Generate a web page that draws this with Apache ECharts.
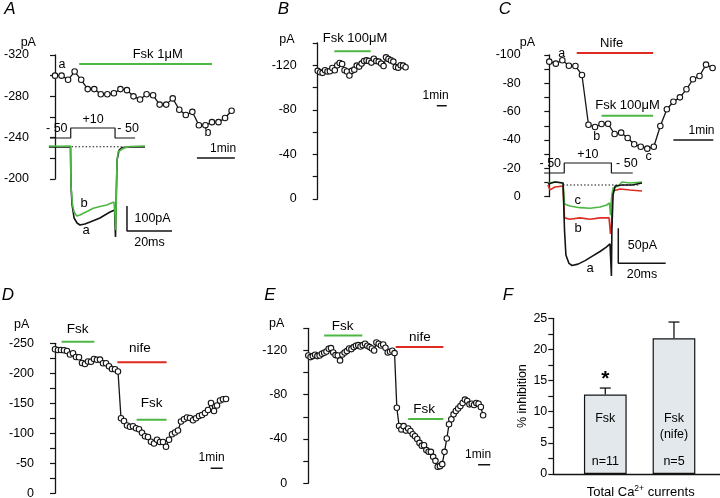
<!DOCTYPE html>
<html>
<head>
<meta charset="utf-8">
<script src="https://cdn.jsdelivr.net/npm/echarts@6/dist/echarts.min.js"></script>
<style>
html, body { margin: 0; padding: 0; background: #fff; }
#main { width: 720px; height: 498px; }
</style>
</head>
<body>
<div id="main"></div>
<script>
var FONT = '"Liberation Sans", Arial, sans-serif';
var INK = '#141414';
var TEXT = '#000';
var GREEN = '#4cb843';
var RED = '#df2a22';

// peak Ca2+ current (pA), one value per sweep
var aPeak = [-300, -300, -296, -304, -296, -287, -287, -282, -282, -283, -287, -286, -280, -277,
  -282, -281, -272, -272, -278, -267, -262, -265, -252, -252, -255, -255, -259, -266];
var bPeak = [-115, -113.8, -113.2, -115.6, -114.4, -114.7, -117.6, -115.6, -120, -122.1, -121.2,
  -115.6, -114.4, -110.8, -115, -116.1, -119.7, -118.8, -121.5, -123.9, -124.4, -123.9, -122.4,
  -125.9, -123.9, -123.3, -121.5, -119.4, -127.1, -125.6, -124.4, -123.3, -118.5, -117.9, -120,
  -119.7, -118.2];
var cPeak = [-95.3, -93.9, -96.3, -92.4, -92.2, -85.9, -50.8, -49.2, -51.3, -51.5, -44.2, -45.2,
  -41.4, -37, -35.3, -33.9, -35.3, -49.9, -61.7, -67, -70.1, -75.8, -82.9, -85.2, -93.2, -90.8];
var dPeak = [-240, -238.8, -238.8, -238.3, -237.2, -231.3, -233.3, -227.2, -226.7, -217.2, -215.5,
  -219.7, -219.2, -223.8, -222.5, -222.8, -216.8, -216.7, -211.7, -207.2, -206.8, -203, -125.2,
  -120.5, -113, -110.8, -111.7, -108.5, -106.7, -100.8, -95.2, -93.8, -86, -83, -89.3, -85.5,
  -85.5, -77.7, -89.2, -98.5, -101.3, -104.7, -119.7, -123.5, -126.3, -125.5, -121.7, -125,
  -128.8, -130.5, -133.8, -138.8, -150.5, -137.2, -146.3, -154.7, -156.7, -157.2];
var ePeak = [-115.5, -114, -114.9, -116.1, -114.9, -115.5, -117, -117.9, -119.1, -121.5, -122.1,
  -118.2, -115.8, -115.5, -111, -116.4, -118.2, -119.4, -121.8, -121.2, -123, -124.2, -124.8,
  -123.6, -124.8, -126, -124.2, -123, -121.8, -120, -127.2, -126, -124.5, -125.4, -122.4, -118.2,
  -118.8, -119.7, -117.6, -68.2, -51.8, -48.7, -51.6, -47.6, -49.5, -47.2, -44.3, -42.5, -40,
  -36.5, -34, -34.4, -30, -28.5, -28.4, -23.9, -20.3, -15, -15.5, -17.3, -28.4, -40.4, -53.3,
  -57.8, -62.3, -65.3, -67.5, -69.8, -72.5, -75.6, -74.3, -71.3, -71.9, -70.7, -72.5, -71.9,
  -68.9, -61.4];

// current traces [ms, pA]
var aTraceA = [[0.4, -1], [5, 0], [10, -1], [10.2, -153], [10.7, -233], [11.6, -285], [12.9, -305],
  [14.2, -313], [16.4, -309], [18.7, -301], [20.9, -293], [23.1, -285], [25.3, -273], [27.6, -261],
  [29.6, -253], [29.8, -313], [30, -361], [30.4, -173], [30.7, -53], [31.6, -13], [32.9, -3],
  [36.4, -1], [43.1, -1]];
var aTraceB = [[0.4, 3], [5, 2], [10, 3], [10.2, -153], [10.6, -157], [10.9, -233], [11.6, -261],
  [12.8, -277], [14.2, -273], [15.7, -266], [17.8, -257], [20.1, -246], [23.1, -239], [26.1, -233],
  [29.3, -221], [29.8, -273], [30.1, -333], [30.4, -173], [30.7, -53], [31.2, -20], [33.5, -6],
  [36.4, 1], [43.1, 3]];
var cTraceA = [[3.5, 1.4], [6.5, 4.3], [9.9, 2.9], [10.5, -64], [11.1, -100], [12.4, -112],
  [13.7, -115], [16.2, -113], [19.2, -108], [22.1, -102], [25.5, -95], [28, -89], [29.7, -84],
  [30.1, -114], [30.3, -130], [30.5, -64], [31, -14], [31.9, -1.4], [34.8, 0], [39, 0], [43.2, 2.9]];
var cTraceB = [[3.5, 0], [4.4, -7], [6.5, -2.9], [9.9, -1.4], [10.5, -47], [12.8, -49], [17, -47],
  [21.3, -49], [25.5, -47], [29.3, -47], [29.9, -70], [30.3, -59], [30.8, -8.6], [34, -5.7],
  [38.1, -7.1], [43.2, -8.6]];
var cTraceC = [[3.5, 2.9], [6.9, 4.3], [9.9, 2.9], [10.5, -27], [12.8, -30], [17, -32.4],
  [21.3, -33.3], [25.5, -31.4], [28.3, -28.6], [29.5, -25.7], [29.9, -43], [30.3, -21], [31, -4.3],
  [33.1, -1.4], [34.8, 4.3], [38.1, 2.9], [43.2, 4.3]];
// voltage protocol [ms, mV]
var stepA = [[0.9, -50], [10.1, -50], [10.1, 10], [29.8, 10], [29.8, -50], [38.7, -50]];
var stepC = [[1.9, -50], [10.4, -50], [10.4, 10], [30.3, 10], [30.3, -50], [39.3, -50]];

// panel F
var fCategories = ['Fsk', 'Fsk\n(nife)'];
var fMean = [12.75, 21.8];
var fSem = [1.05, 2.6];
var fN = [11, 5];

var chart = echarts.init(document.getElementById('main'));

function grid(l, t, w, h) {
  return { left: l, top: t, width: w, height: h, containLabel: false, outerBoundsMode: 'none' };
}
function hx(gi, min, max) {
  return { type: 'value', gridIndex: gi, min: min, max: max, show: false };
}
function hy(gi, min, max) {
  return { type: 'value', gridIndex: gi, min: min, max: max, show: false };
}
function pAxis(gi, min, max, step, every, inverse) {
  return {
    type: 'value', gridIndex: gi, min: min, max: max, interval: step, inverse: inverse,
    axisLine: { show: true, lineStyle: { color: INK, width: 1.3 } },
    axisTick: { show: true, length: 5, lineStyle: { color: INK, width: 1.2 } },
    splitLine: { show: false },
    axisLabel: {
      color: TEXT, fontSize: 12.5, fontFamily: FONT, margin: 6,
      formatter: function (v) { return Math.abs(Math.round(v * 10)) % (every * 10) === 0 ? String(v) : ''; }
    }
  };
}
function course(gi, vals) {
  return {
    type: 'line', xAxisIndex: gi, yAxisIndex: gi,
    data: vals.map(function (v, i) { return [i, v]; }),
    symbol: 'circle', symbolSize: 5.5, showSymbol: true, clip: false,
    itemStyle: { color: '#fff', borderColor: INK, borderWidth: 1.1 },
    lineStyle: { color: INK, width: 1.3 }, z: 4
  };
}
function seg(gi, pts, color, w, dash) {
  return {
    type: 'line', xAxisIndex: gi, yAxisIndex: gi, data: pts, symbol: 'none', clip: false,
    lineStyle: { color: color, width: w, type: dash || 'solid' }, z: 3, silent: true
  };
}
// text placed at data coordinates: [x, y, text, position, distance, fontSize, weight]
function notes(gi, items) {
  return {
    type: 'scatter', xAxisIndex: gi, yAxisIndex: gi, symbolSize: 1, clip: false, silent: true, z: 6,
    itemStyle: { color: 'rgba(255,255,255,0)' },
    data: items.map(function (it) {
      return {
        value: [it[0], it[1]],
        label: {
          show: true, formatter: it[2], position: it[3] || 'inside', distance: it[4] || 0,
          fontSize: it[5] || 12.5, color: TEXT, fontFamily: FONT, lineHeight: 16,
          fontWeight: it[6] || 'normal', textBorderWidth: 0, textBorderColor: 'rgba(0,0,0,0)', opacity: 1
        }
      };
    })
  };
}

var series = [
  // A
  seg(0, [[3.7, -311.3], [24, -311.3]], GREEN, 2),
  seg(0, [[21.7, -220.3], [27.5, -220.3]], INK, 1.5),
  course(0, aPeak),
  notes(0, [[15.7, -311.3, 'Fsk 1\u03bcM', 'top', 1, 13], [25.7, -220.3, '1min', 'top', 1, 12],
    [1.07, -310.3, 'a'], [23.4, -244.5, 'b']]),
  seg(1, [[10.5, 0], [32.7, 0]], INK, 1.2, [1.5, 2]),
  seg(1, aTraceA, INK, 1.6),
  seg(1, aTraceB, GREEN, 1.6),
  seg(1, [[35.1, -237], [35.1, -337], [55.1, -337]], INK, 1.5),
  notes(1, [[16, -225, 'b', 'inside', 0, 13], [16.9, -333, 'a', 'inside', 0, 13],
    [35.1, -287, '100pA', 'right', 7, 12.5], [45.1, -337, '20ms', 'bottom', 3, 12.5]]),
  seg(2, stepA, INK, 1.2),
  notes(2, [[3.9, -50, '- 50', 'top', 1, 12.5], [20, 10, '+10', 'top', 0, 12.5], [35.6, -50, '- 50', 'top', 1, 12.5]]),
  // B
  seg(3, [[6.8, -132.7], [21.7, -132.7]], GREEN, 2),
  seg(3, [[48.8, -83.6], [52.9, -83.6]], INK, 1.5),
  course(3, bPeak),
  notes(3, [[15.3, -132.7, 'Fsk 100\u03bcM', 'top', 4, 13], [48.3, -83.6, '1min', 'top', 2, 12]]),
  // C
  seg(4, [[4.2, -101.4], [15.9, -101.4]], RED, 2),
  seg(4, [[8, -57.2], [15.9, -57.2]], GREEN, 2),
  seg(4, [[19, -40], [25.1, -40]], INK, 1.5),
  course(4, cPeak),
  notes(4, [[9.55, -101.4, 'Nife', 'top', 1.5, 13], [11.98, -57.2, 'Fsk 100\u03bcM', 'top', 2, 13],
    [23.3, -40, '1min', 'top', 1, 12], [1.9, -101.2, 'a'], [7.26, -42.3, 'b'], [15.2, -28.2, 'c']]),
  seg(5, [[9.9, 0], [42.4, 0]], INK, 1.2, [1.5, 2]),
  seg(5, cTraceB, RED, 1.6),
  seg(5, cTraceC, GREEN, 1.6),
  seg(5, cTraceA, INK, 1.6),
  seg(5, [[33.2, -61.9], [33.2, -111.9], [53.2, -111.9]], INK, 1.5),
  notes(5, [[16.1, -21.4, 'c', 'inside', 0, 13], [16.3, -61.9, 'b', 'inside', 0, 13],
    [21.3, -118.6, 'a', 'inside', 0, 13], [33.2, -86, '50pA', 'right', 9, 12.5],
    [43.2, -111.9, '20ms', 'bottom', 3, 12.5]]),
  seg(6, stepC, INK, 1.2),
  notes(6, [[4.5, -50, '- 50', 'top', 1, 12.5], [20.4, 10, '+10', 'top', 0, 12.5], [36.8, -50, '- 50', 'top', 1, 12.5]]),
  // D
  seg(7, [[2.2, -252.7], [13.1, -252.7]], GREEN, 2),
  seg(7, [[20.8, -218.3], [37.2, -218.3]], RED, 2),
  seg(7, [[27.2, -122.7], [37.2, -122.7]], GREEN, 2),
  seg(7, [[51.9, -41.7], [55.9, -41.7]], INK, 1.5),
  course(7, dPeak),
  notes(7, [[7.57, -252.7, 'Fsk', 'top', 3.5, 13.5], [28.3, -218.3, 'nife', 'top', 5.5, 13.5],
    [32.2, -122.7, 'Fsk', 'top', 7.5, 13.5], [52.2, -41.7, '1min', 'top', 2, 12]]),
  // E
  seg(8, [[7, -133.5], [23.8, -133.5]], GREEN, 2),
  seg(8, [[38.5, -123], [59.5, -123]], RED, 2),
  seg(8, [[44, -58.1], [59.5, -58.1]], GREEN, 2),
  seg(8, [[74.8, -16.8], [80.1, -16.8]], INK, 1.5),
  course(8, ePeak),
  notes(8, [[15.15, -133.5, 'Fsk', 'top', 0.5, 13.5], [49.2, -123, 'nife', 'top', 1, 13.5],
    [51, -58.1, 'Fsk', 'top', 1.5, 13.5], [74.8, -16.8, '1min', 'top', 2, 12]]),
  // F
  {
    type: 'bar', xAxisIndex: 9, yAxisIndex: 9, barWidth: 42.7,
    data: fMean.map(function (m, i) { return [i + 1, m]; }),
    itemStyle: { color: '#e3e8ec', borderColor: INK, borderWidth: 1.2 }, z: 2
  },
  {
    type: 'custom', xAxisIndex: 9, yAxisIndex: 9, z: 3,
    encode: { x: 0, y: 1 },
    data: fMean.map(function (m, i) { return [i + 1, m, fSem[i]]; }),
    renderItem: function (params, api) {
      var x = api.value(0), m = api.value(1), e = api.value(2);
      var p0 = api.coord([x, m]), p1 = api.coord([x, m + e]);
      var sty = { stroke: INK, lineWidth: 1.3 };
      return {
        type: 'group', children: [
          { type: 'line', shape: { x1: p0[0], y1: p0[1], x2: p1[0], y2: p1[1] }, style: sty },
          { type: 'line', shape: { x1: p1[0] - 5.5, y1: p1[1], x2: p1[0] + 5.5, y2: p1[1] }, style: sty }
        ]
      };
    }
  },
  notes(9, [[1, 8.9, fCategories[0]], [2, 7.6, fCategories[1]],
    [1, 2.0, 'n=' + fN[0]], [2, 2.0, 'n=' + fN[1]], [1, 15.2, '*', 'inside', 0, 21, 'bold']])
];

var xAxes = [
  hx(0, -3.06, 28.5), hx(1, 0, 56), hx(2, 0, 56), hx(3, -6.15, 55), hx(4, -3.46, 26),
  hx(5, 0, 59.07), hx(6, 0, 59.07), hx(7, -5, 60), hx(8, -6.6, 84.4),
  {
    type: 'value', gridIndex: 9, min: 0.243, max: 2.67,
    axisLine: { show: true, lineStyle: { color: INK, width: 1.3 } },
    axisTick: { show: false }, axisLabel: { show: false }, splitLine: { show: false },
    name: 'Total Ca{sup|2+} currents', nameLocation: 'middle', nameGap: 10,
    nameTextStyle: {
      color: TEXT, fontSize: 13, fontFamily: FONT, padding: [0, 0, 0, 8], lineHeight: 16,
      rich: { sup: { fontSize: 8.5, verticalAlign: 'top', lineHeight: 10, fontFamily: FONT, color: TEXT } }
    }
  }
];
var fY = pAxis(9, 0, 25, 2.5, 5, false);
fY.name = '% inhibition';
fY.nameLocation = 'middle';
fY.nameRotate = 90;
fY.nameGap = 23;
fY.nameTextStyle = { color: TEXT, fontSize: 12.5, fontFamily: FONT };
var yAxes = [
  pAxis(0, -320, -200, 20, 40, true), hy(1, -373, 107), hy(2, -50, 10),
  pAxis(3, -140, 0, 20, 40, true), pAxis(4, -100, 0, 10, 20, true), hy(5, -135.7, 21.4),
  hy(6, -50, 10), pAxis(7, -250, 0, 25, 50, true), pAxis(8, -140, 0, 20, 40, true), fY
];

function txt(x, y, s, font) {
  return {
    type: 'text', x: x, y: y, silent: true,
    style: { text: s, font: font, fill: TEXT, textAlign: 'center', textVerticalAlign: 'middle', align: 'center', verticalAlign: 'middle' }
  };
}
var LETTER = 'italic 17px "Liberation Sans", Arial, sans-serif';
var UNIT = '12.5px "Liberation Sans", Arial, sans-serif';

chart.setOption({
  animation: false,
  backgroundColor: '#fff',
  textStyle: { fontFamily: FONT },
  grid: [
    grid(35, 55, 206.4, 124), grid(48, 120, 126, 120), grid(48, 128, 126, 10),
    grid(302.7, 43, 149.2, 156), grid(526.7, 55, 192.4, 141.7), grid(539.6, 170, 140, 110),
    grid(539.6, 163, 140, 10), grid(40, 343.3, 195, 150), grid(293.3, 328.3, 206.6, 155),
    grid(553.3, 318.3, 166.7, 155.7)
  ],
  xAxis: xAxes,
  yAxis: yAxes,
  series: series,
  graphic: {
    elements: [
      txt(10, 9, 'A', LETTER), txt(283.5, 9, 'B', LETTER), txt(505, 9, 'C', LETTER),
      txt(8, 295, 'D', LETTER), txt(270, 295, 'E', LETTER), txt(508, 295, 'F', LETTER),
      txt(28.3, 42.7, 'pA', UNIT), txt(287, 40, 'pA', UNIT), txt(527.5, 42.7, 'pA', UNIT),
      txt(21.7, 324.3, 'pA', UNIT), txt(276.7, 324, 'pA', UNIT)
    ]
  }
});
</script>
</body>
</html>
